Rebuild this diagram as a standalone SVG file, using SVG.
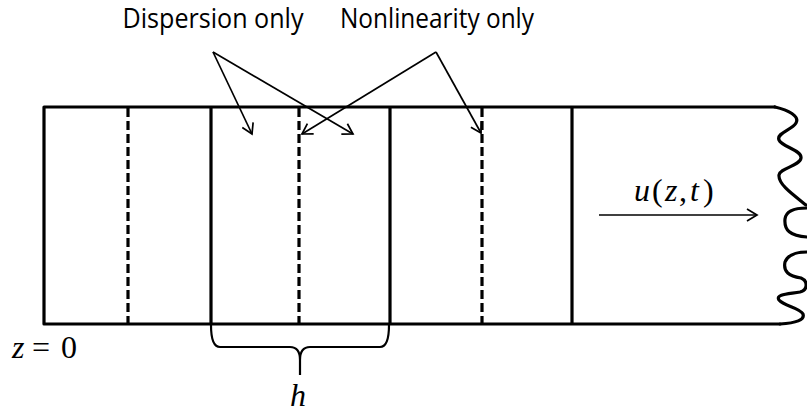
<svg xmlns="http://www.w3.org/2000/svg" width="807" height="413" viewBox="0 0 807 413">
<defs>
<style>
.frame{fill:none;stroke:#000;stroke-width:3.2;stroke-linejoin:round;stroke-linecap:round}
.solid{stroke:#000;stroke-width:3.2}
.dash{stroke:#000;stroke-width:3.2;stroke-dasharray:9 4}
.arr{stroke:#000;stroke-width:1.7;fill:none}
.lbl{font-family:"Open Sans","DejaVu Sans",sans-serif;font-size:27px;fill:#000}
.math{font-family:"Liberation Serif","Times New Roman",serif;font-size:32px;fill:#000}
</style>
<marker id="ah" markerWidth="14" markerHeight="14" refX="12" refY="7" orient="auto" markerUnits="userSpaceOnUse">
<path d="M2,1 L12,7 L2,13" fill="none" stroke="#000" stroke-width="1.7"/>
</marker>
</defs>
<rect width="807" height="413" fill="#fff"/>
<g id="fiber">
<path class="frame" d="M775,107 L44,107 L44,324 L780,324"/>
<path class="frame" d="M775,107 C788,110 800,116 796,123 C792,130 776,133 779,140 C782,147 802,150 801,158 C800,166 780,168 779,175 C778,184 792,194 806,205"/>
<path class="frame" d="M807,208 C796,208 786,210 785,219 C784,230 790,236 807,237"/>
<path class="frame" d="M807,252 C796,252 788,254 785,262 C783,272 789,276 801,278 C808,281 808,290 800,292 C790,294 775,294 779,300 C784,306 800,308 803,314 C805,320 796,323 780,324"/>
</g>
<g id="sections">
<line class="dash" x1="128" y1="108" x2="128" y2="323"/>
<line class="solid" x1="211" y1="108" x2="211" y2="323"/>
<line class="dash" x1="299" y1="108" x2="299" y2="323"/>
<line class="solid" x1="390" y1="108" x2="390" y2="323"/>
<line class="dash" x1="482" y1="108" x2="482" y2="323"/>
<line class="solid" x1="572" y1="108" x2="572" y2="323"/>
</g>
<g id="dispersion-label">
<text class="lbl" x="213" y="28" text-anchor="middle" textLength="181" lengthAdjust="spacingAndGlyphs">Dispersion only</text>
</g>
<g id="nonlinearity-label">
<text class="lbl" x="437" y="28" text-anchor="middle" textLength="194" lengthAdjust="spacingAndGlyphs">Nonlinearity only</text>
</g>
<g id="connectors">
<line class="arr" x1="213" y1="52" x2="252" y2="134" marker-end="url(#ah)"/>
<line class="arr" x1="213" y1="52" x2="353" y2="134" marker-end="url(#ah)"/>
<line class="arr" x1="436" y1="52" x2="302" y2="134" marker-end="url(#ah)"/>
<line class="arr" x1="436" y1="52" x2="481" y2="133" marker-end="url(#ah)"/>
<line class="arr" x1="599" y1="215" x2="757" y2="215" marker-end="url(#ah)"/>
</g>
<g id="field-label">
<text class="math" y="201"><tspan x="634" font-style="italic">u</tspan><tspan x="652">(</tspan><tspan x="665" font-style="italic">z</tspan><tspan x="679">,</tspan><tspan x="690" font-style="italic">t</tspan><tspan x="703">)</tspan></text>
</g>
<g id="origin-label">
<text class="math" y="358"><tspan x="12" font-style="italic">z</tspan><tspan x="32">=</tspan><tspan x="61">0</tspan></text>
</g>
<g id="step-brace">
<path d="M211,325 Q211,347 220,347 L290,347 Q300,347 300,360 L300,375 M300,360 Q300,347 310,347 L380,347 Q389,347 389,325" fill="none" stroke="#000" stroke-width="2.2"/>
<text class="math" x="298" y="406" text-anchor="middle" font-style="italic">h</text>
</g>
</svg>
